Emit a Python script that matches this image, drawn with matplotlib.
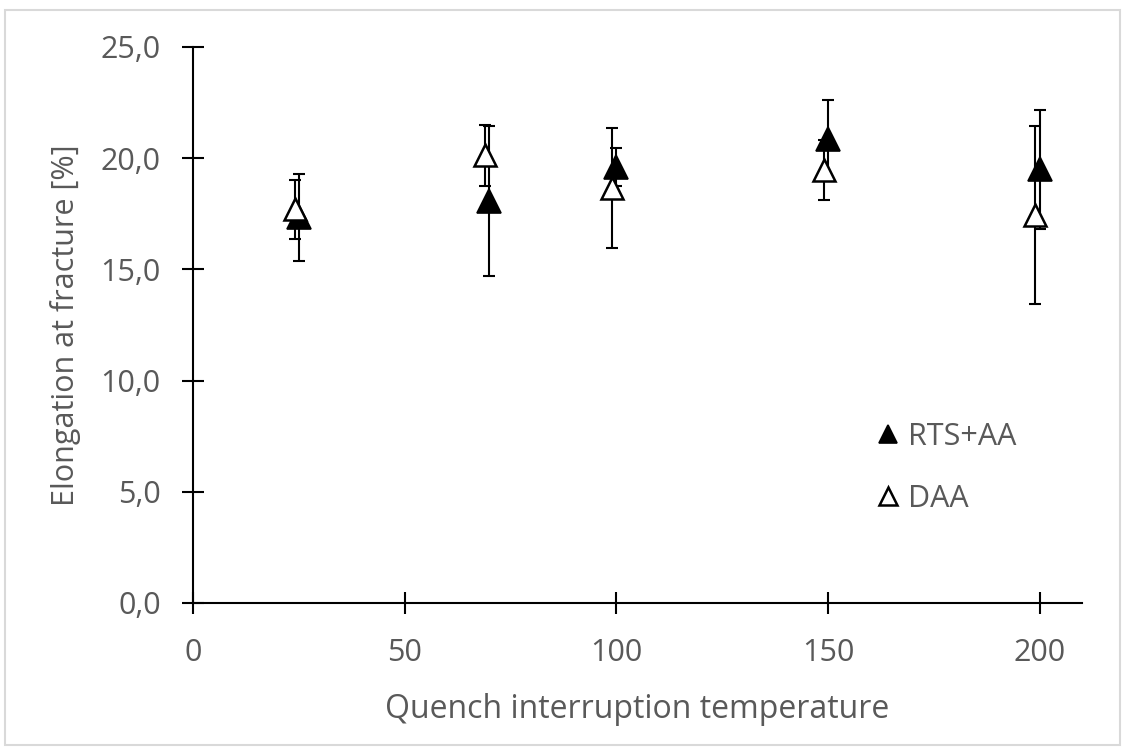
import matplotlib.pyplot as plt
from matplotlib.patches import Rectangle

plt.rcParams['font.family'] = ['Open Sans', 'DejaVu Sans']

# RTS+AA (filled triangles)
temps_rts = [25, 70, 100, 150, 200]
elong_rts = [17.35, 18.07, 19.6, 20.88, 19.5]
err_rts = [1.95, 3.37, 0.86, 1.72, 2.67]

# DAA (open triangles)
temps_daa = [24, 69, 99, 149, 199]
elong_daa = [17.7, 20.13, 18.66, 19.45, 17.45]
err_daa = [1.32, 1.37, 2.68, 1.35, 4.0]

yticks = [0, 5, 10, 15, 20, 25]
ytick_labels = ["0,0", "5,0", "10,0", "15,0", "20,0", "25,0"]
xticks = [0, 50, 100, 150, 200]

grey = '#595959'
fs = 22

fig = plt.figure(figsize=(11.33, 7.51), dpi=100)
fig.patches.append(Rectangle((5/1133, 6/751), 1115/1133, 735/751, transform=fig.transFigure,
                             fill=False, edgecolor='#d9d9d9', linewidth=1.5))
ax = fig.add_axes([193/1133, 148/751, 889/1133, 556/751])

# error bars first, then markers on top
ax.errorbar(temps_rts, elong_rts, yerr=err_rts, fmt='none', ecolor='black',
            elinewidth=1.5, capsize=4, capthick=1.5, zorder=2)
ax.plot(temps_rts, elong_rts, linestyle='none', marker='^', ms=17,
        mfc='black', mec='black', mew=1.2, label='RTS+AA', zorder=3)
ax.errorbar(temps_daa, elong_daa, yerr=err_daa, fmt='none', ecolor='black',
            elinewidth=1.5, capsize=4, capthick=1.5, zorder=4)
ax.plot(temps_daa, elong_daa, linestyle='none', marker='^', ms=16,
        mfc='white', mec='black', mew=1.8, label='DAA', zorder=5)

ax.set_xlim(0, 210)
ax.set_ylim(0, 25)
ax.set_xticks(xticks)
ax.set_yticks(yticks)
ax.set_yticklabels(ytick_labels)

for s in ['top', 'right']:
    ax.spines[s].set_visible(False)
for s in ['left', 'bottom']:
    ax.spines[s].set_linewidth(1.5)
    ax.spines[s].set_color('black')
ax.tick_params(axis='both', direction='inout', length=16.5, width=1.5,
               labelsize=fs, labelcolor=grey, color='black')
ax.tick_params(axis='y', pad=15)
ax.tick_params(axis='x', pad=17)

ax.set_xlabel('Quench interruption temperature', fontsize=23, color=grey, labelpad=18)
ax.set_ylabel('Elongation at fracture [%]', fontsize=fs, color=grey, labelpad=14)

leg = ax.legend(loc='center left', bbox_to_anchor=(0.765, 0.243), frameon=False,
                fontsize=fs, handlelength=1.0, handletextpad=0.15, borderpad=0,
                borderaxespad=0, labelspacing=1.05, markerscale=0.8)
for t in leg.get_texts():
    t.set_color(grey)

fig.savefig('out.png', dpi=100)
